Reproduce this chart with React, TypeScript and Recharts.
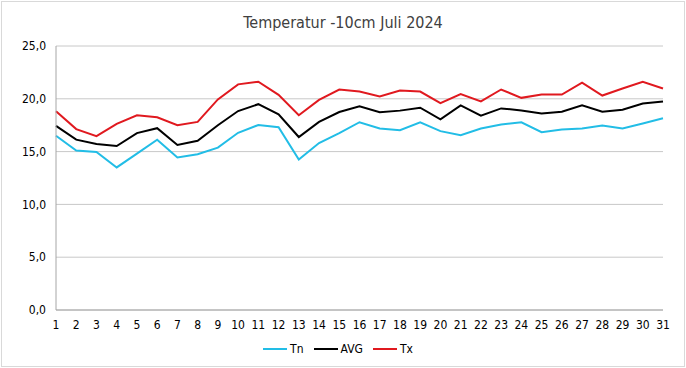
import React from "react";
import { LineChart, Line, XAxis, YAxis, CartesianGrid } from "recharts";

const days = [1,2,3,4,5,6,7,8,9,10,11,12,13,14,15,16,17,18,19,20,21,22,23,24,25,26,27,28,29,30,31];
const tn = [16.5,15.1,14.97,13.5,14.81,16.13,14.44,14.75,15.38,16.78,17.52,17.31,14.25,15.81,16.75,17.78,17.19,17.03,17.78,16.94,16.56,17.19,17.56,17.78,16.84,17.09,17.19,17.47,17.19,17.66,18.16];
const avg = [17.44,16.13,15.72,15.53,16.75,17.22,15.63,16.03,17.5,18.84,19.49,18.53,16.38,17.81,18.75,19.28,18.72,18.88,19.16,18.06,19.38,18.41,19.09,18.9,18.62,18.78,19.38,18.78,18.97,19.56,19.75];
const tx = [18.81,17.13,16.47,17.63,18.44,18.25,17.5,17.81,19.94,21.37,21.62,20.37,18.44,19.9,20.88,20.69,20.22,20.78,20.69,19.59,20.44,19.75,20.88,20.09,20.4,20.4,21.53,20.31,20.97,21.62,20.97];
const yTicks = [0,5,10,15,20,25];
const title = "Temperatur -10cm Juli 2024";
const seriesNames = ["Tn", "AVG", "Tx"];
const colors = ["#22bde6", "#000000", "#e0191f"];

const data = days.map((d, i) => ({ day: d, Tn: tn[i], AVG: avg[i], Tx: tx[i] }));

const FONT = "'DejaVu Sans Condensed', 'Liberation Sans Narrow', 'DejaVu Sans', sans-serif";

export default function App() {
  return (
    <div style={{ position: "absolute", left: 0, top: 0, width: 686, height: 368, background: "#fff", fontFamily: FONT }}>
      <div style={{ position: "absolute", left: 1, top: 1, width: 682, height: 364, border: "1px solid #d9d9d9" }} />
      <div style={{ position: "absolute", left: 0, top: 13, width: 686, textAlign: "center", fontSize: 16, color: "#404040" }}>{title}</div>
      <LineChart width={686} height={368} data={data} margin={{ top: 46, right: 23, bottom: 38, left: 0 }}>
        <CartesianGrid vertical={false} stroke="#c8c8c8" />
        <XAxis dataKey="day" tickLine={false} tickSize={0} tickMargin={10} height={20} stroke="#a6a6a6" tick={{ fill: "#000", fontSize: 12, fontFamily: FONT }} interval={0} />
        <YAxis domain={[0, 25]} ticks={yTicks} width={56} tickLine={false} tickSize={0} tickMargin={10} stroke="#a6a6a6" tick={{ fill: "#000", fontSize: 12, fontFamily: FONT }} tickFormatter={(v: number) => v.toFixed(1).replace(".", ",")} />
        {seriesNames.map((n, i) => (
          <Line key={n} dataKey={n} stroke={colors[i]} strokeWidth={2} dot={false} isAnimationActive={false} type="linear" />
        ))}
      </LineChart>
      <div style={{ position: "absolute", left: 0, top: 342, width: 686, display: "flex", justifyContent: "center", fontSize: 12, color: "#000" }}>
        {seriesNames.map((n, i) => (
          <div key={n} style={{ display: "flex", alignItems: "center", marginRight: 10 }}>
            <div style={{ width: 24, height: 2, background: colors[i], marginRight: 3 }} />
            <span>{n}</span>
          </div>
        ))}
      </div>
    </div>
  );
}
